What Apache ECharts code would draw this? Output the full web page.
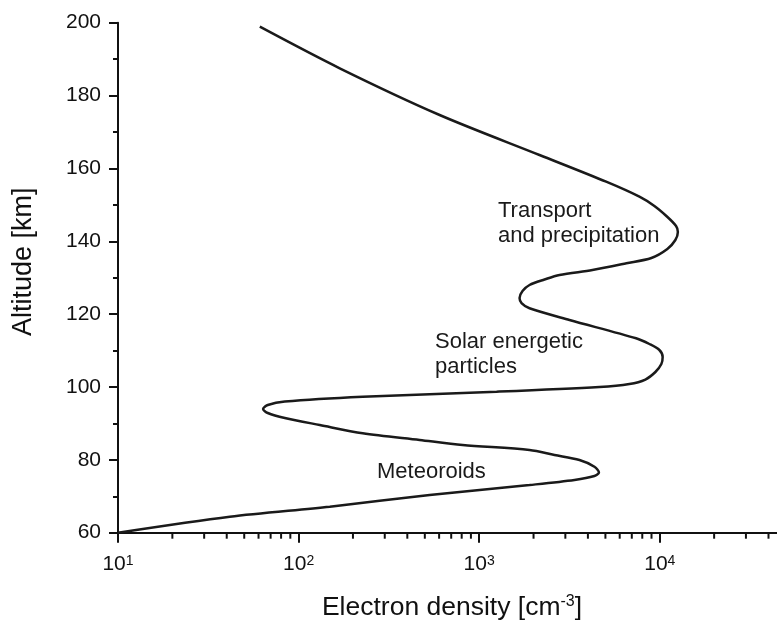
<!DOCTYPE html>
<html>
<head>
<meta charset="utf-8">
<script src="https://cdn.jsdelivr.net/npm/echarts@6/dist/echarts.min.js"></script>
<style>html,body{margin:0;padding:0;background:#fff;}#c{width:777px;height:622px;}</style>
</head>
<body>
<div id="c"></div>
<script>
// Electron density profile (cm^-3) vs altitude (km)
const altitude = [60.0, 64.39, 67.14, 70.35, 73.09, 74.47, 75.56, 76.52, 78.12, 79.96, 81.33, 82.70, 84.07, 85.45, 87.29, 89.56, 91.49, 92.86, 93.96, 95.05, 96.01, 97.33, 98.70, 100.0, 100.82, 102.05, 104.11, 106.31, 108.23, 110.15, 111.80, 113.36, 118.39, 121.60, 123.05, 124.42, 126.35, 128.0, 129.50, 130.74, 132.11, 133.95, 135.41, 137.88, 140.35, 142.54, 144.19, 146.93, 149.68, 152.23, 156.35, 163.68, 174.66, 187.48, 198.90];
const density = [10, 41.6, 148.8, 531.8, 1900, 3371, 4347, 4604, 4347, 3592, 2612, 1900, 809.5, 468, 226.5, 131, 83.9, 67.5, 63.6, 67.5, 83.9, 226.5, 1248, 4633, 6791, 8325, 9456, 10205, 10375, 9949, 8760, 7393, 3162, 1900, 1716, 1673, 1738, 1900, 2300, 2784, 4239, 6537, 8985, 11015, 12200, 12594, 12308, 10877, 9336, 7714, 5047, 2158, 604, 169, 61];

// Axis settings
const xMin = 10, xMax = 50000;
const yMin = 60, yMax = 200, yInterval = 20;
const xMinorTicks = [];
[10, 100, 1000, 10000].forEach(function (d) {
  for (let k = 2; k <= 9; k++) { if (k * d < xMax) xMinorTicks.push(k * d); }
});

const annotations = [
  { text: 'Transport\nand precipitation', x: 498, y: 198 },
  { text: 'Solar energetic\nparticles', x: 435, y: 329 },
  { text: 'Meteoroids', x: 377, y: 459 }
];

const FONT = '"Liberation Sans", Arial, sans-serif';
const chart = echarts.init(document.getElementById('c'), null, { renderer: 'canvas' });

const option = {
  backgroundColor: '#ffffff',
  animation: false,
  grid: { left: 118, right: -9, top: 22.7, bottom: 89.3, containLabel: false, outerBoundsMode: 'none' },
  xAxis: {
    type: 'log', logBase: 10, min: xMin, max: xMax,
    name: 'Electron density [cm{s|-3}]',
    nameLocation: 'middle', nameGap: 61,
    nameTextStyle: { fontFamily: FONT, fontSize: 26.5, color: '#111',
      rich: { s: { fontFamily: FONT, fontSize: 16, color: '#111', verticalAlign: 'top', lineHeight: 14 } } },
    axisLine: { lineStyle: { color: '#111', width: 2 } },
    axisTick: { show: true, inside: false, length: 10, lineStyle: { color: '#111', width: 2 } },
    splitLine: { show: false },
    minorTick: { show: false },
    axisLabel: {
      margin: 21, showMaxLabel: false,
      formatter: function (v) {
        const e = Math.log10(v);
        if (Math.abs(e - Math.round(e)) > 1e-6) return '';
        return '{b|10}{s|' + Math.round(e) + '}';
      },
      rich: {
        b: { fontFamily: FONT, fontSize: 21, color: '#111', lineHeight: 21, padding: [3, 0, 0, 0], verticalAlign: 'bottom' },
        s: { fontFamily: FONT, fontSize: 14, color: '#111', lineHeight: 14, verticalAlign: 'top' }
      }
    }
  },
  yAxis: {
    type: 'value', min: yMin, max: yMax, interval: yInterval,
    name: 'Altitude [km]', nameLocation: 'middle', nameGap: 81, nameRotate: 90,
    nameTextStyle: { fontFamily: FONT, fontSize: 27, color: '#111', padding: [0, 0, 0, 32] },
    axisLine: { show: true, lineStyle: { color: '#111', width: 2 } },
    axisTick: { show: true, inside: false, length: 9, lineStyle: { color: '#111', width: 2 } },
    minorTick: { show: true, splitNumber: 2, length: 5, lineStyle: { color: '#111', width: 2 } },
    splitLine: { show: false },
    axisLabel: { margin: 17, fontFamily: FONT, fontSize: 21, color: '#111' }
  },
  series: [
    {
      type: 'line',
      data: density.map(function (d, i) { return [d, altitude[i]]; }),
      smooth: 0.3,
      showSymbol: false,
      clip: false,
      lineStyle: { color: '#1a1a1a', width: 2.5 },
      silent: true
    },
    {
      type: 'custom',
      clip: false,
      silent: true,
      data: xMinorTicks.map(function (v) { return [v, yMin]; }),
      renderItem: function (params, api) {
        const p = api.coord([api.value(0), api.value(1)]);
        return {
          type: 'line',
          shape: { x1: p[0], y1: p[1], x2: p[0], y2: p[1] + 6 },
          style: { stroke: '#111', lineWidth: 2 }
        };
      }
    }
  ],
  graphic: annotations.map(function (a) {
    return {
      type: 'text', left: a.x, top: a.y, silent: true,
      style: { text: a.text, fontFamily: FONT, fontSize: 22, lineHeight: 25, fill: '#1a1a1a' }
    };
  })
};
chart.setOption(option);
</script>
</body>
</html>
